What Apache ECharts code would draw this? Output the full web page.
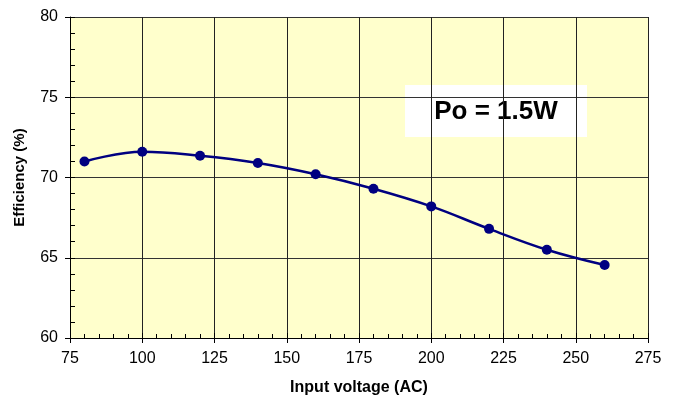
<!DOCTYPE html>
<html><head><meta charset="utf-8">
<script src="https://cdn.jsdelivr.net/npm/echarts@6/dist/echarts.min.js"></script>
<style>html,body{margin:0;padding:0;background:#fff}#c{width:680px;height:397px}</style>
</head><body><div id="c"></div>
<script>
const voltages = [80, 100, 120, 140, 160, 180, 200, 220, 240, 260];
const efficiency = [71.0, 71.6, 71.35, 70.9, 70.2, 69.3, 68.2, 66.8, 65.5, 64.55];
const xName = 'Input voltage (AC)';
const yName = 'Efficiency (%)';
const boxLabel = 'Po = 1.5W';

const chart = echarts.init(document.getElementById('c'));
const font = 'Arial, "Liberation Sans", sans-serif';
const grid = {left: 70, right: 32, top: 17, bottom: 59, show: true, backgroundColor: '#FFFFCC', borderWidth: 0, containLabel: false, outerBoundsMode: 'none'};
const xBase = {type: 'value', min: 75, max: 275, interval: 25, gridIndex: 0};
const yBase = {type: 'value', min: 60, max: 80, interval: 5, gridIndex: 0};
chart.setOption({
  animation: false,
  grid: grid,
  xAxis: [
    Object.assign({}, xBase, {
      name: xName, nameLocation: 'middle', nameGap: 42,
      nameTextStyle: {fontFamily: font, fontWeight: 'bold', fontSize: 16, color: '#000'},
      axisLine: {show: true, lineStyle: {color: '#000', width: 1}},
      axisTick: {show: true, inside: false, length: 5, lineStyle: {color: '#000'}},
      axisLabel: {fontFamily: font, fontSize: 16, color: '#000', margin: 13},
      splitLine: {show: true, lineStyle: {color: '#222', width: 1}}
    }),
    Object.assign({}, xBase, {
      position: 'bottom',
      axisLine: {show: false}, axisLabel: {show: false}, splitLine: {show: false},
      axisTick: {show: true, inside: true, length: 5, lineStyle: {color: '#000'}},
      minorTick: {show: true, splitNumber: 5, length: 4, lineStyle: {color: '#000'}}
    })
  ],
  yAxis: [
    Object.assign({}, yBase, {
      name: yName, nameLocation: 'middle', nameGap: 43,
      nameTextStyle: {fontFamily: font, fontWeight: 'bold', fontSize: 15, color: '#000'},
      axisLine: {show: true, lineStyle: {color: '#000', width: 1}},
      axisTick: {show: true, inside: false, length: 5, lineStyle: {color: '#000'}},
      axisLabel: {fontFamily: font, fontSize: 16, color: '#000', margin: 12},
      splitLine: {show: true, lineStyle: {color: '#333', width: 1}}
    }),
    Object.assign({}, yBase, {
      position: 'left',
      axisLine: {show: false}, axisLabel: {show: false}, splitLine: {show: false},
      axisTick: {show: true, inside: true, length: 5, lineStyle: {color: '#000'}},
      minorTick: {show: true, splitNumber: 5, length: 5, lineStyle: {color: '#000'}}
    })
  ],
  series: [{
    type: 'line', xAxisIndex: 0, yAxisIndex: 0,
    data: voltages.map((v, i) => [v, efficiency[i]]),
    smooth: 0.4,
    symbol: 'circle', symbolSize: 10,
    lineStyle: {color: '#000080', width: 2.5},
    itemStyle: {color: '#000080'}
  }],
  graphic: [{
    type: 'group', left: 405, top: 85,
    children: [
      {type: 'rect', shape: {x: 0, y: 0, width: 182, height: 52}, style: {fill: '#fff'}},
      {type: 'text', x: 91, y: 27, style: {text: boxLabel, fontFamily: font, fontWeight: 'bold', fontSize: 26, fill: '#000', align: 'center', verticalAlign: 'middle'}}
    ]
  }]
});
</script></body></html>
